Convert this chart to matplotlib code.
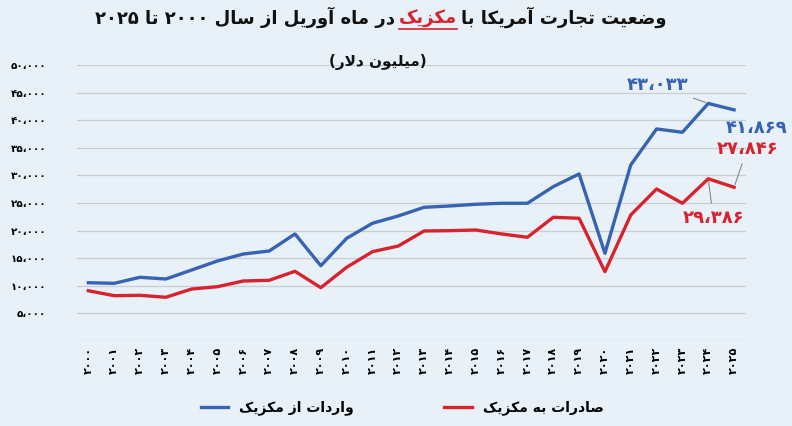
import re
import matplotlib
matplotlib.use('Agg')
import matplotlib.pyplot as plt
from matplotlib.lines import Line2D

# data (million dollars, April of each year)
years = list(range(2000, 2026))
imports = [10560, 10450, 11540, 11230, 12860, 14500, 15760, 16300, 19390, 13640,
           18600, 21330, 22650, 24220, 24460, 24770, 24950, 24950, 27960, 30260,
           15890, 31890, 38410, 37810, 43033, 41869]
exports = [9110, 8210, 8280, 7920, 9420, 9840, 10870, 11000, 12630, 9660,
           13350, 16180, 17210, 19930, 19990, 20110, 19390, 18790, 22410, 22230,
           12560, 22830, 27540, 24950, 29386, 27846]
y_ticks = [5000, 10000, 15000, 20000, 25000, 30000, 35000, 40000, 45000, 50000]

title_left = 'در ماه آوریل از سال ۲۰۰۰ تا ۲۰۲۵'
title_mid = 'مکزیک'
title_right = 'وضعیت تجارت آمریکا با'
subtitle = '(میلیون دلار)'
label_imports = 'واردات از مکزیک'
label_exports = 'صادرات به مکزیک'

BLUE = '#3763b3'
RED = '#d8232f'
BG = '#e8f1f8'

# --- minimal persian shaping (matplotlib has no complex text layout) ---
FORMS = {
    'ا': ('\uFE8D', '\uFE8E'), 'آ': ('\uFE81', '\uFE82'),
    'د': ('\uFEA9', '\uFEAA'), 'ر': ('\uFEAD', '\uFEAE'),
    'ز': ('\uFEAF', '\uFEB0'), 'و': ('\uFEED', '\uFEEE'),
    'ب': ('\uFE8F', '\uFE90', '\uFE91', '\uFE92'),
    'ت': ('\uFE95', '\uFE96', '\uFE97', '\uFE98'),
    'ج': ('\uFE9D', '\uFE9E', '\uFE9F', '\uFEA0'),
    'س': ('\uFEB1', '\uFEB2', '\uFEB3', '\uFEB4'),
    'ص': ('\uFEB9', '\uFEBA', '\uFEBB', '\uFEBC'),
    'ض': ('\uFEBD', '\uFEBE', '\uFEBF', '\uFEC0'),
    'ع': ('\uFEC9', '\uFECA', '\uFECB', '\uFECC'),
    'ک': ('\uFB8E', '\uFB8F', '\uFB90', '\uFB91'),
    'ل': ('\uFEDD', '\uFEDE', '\uFEDF', '\uFEE0'),
    'م': ('\uFEE1', '\uFEE2', '\uFEE3', '\uFEE4'),
    'ن': ('\uFEE5', '\uFEE6', '\uFEE7', '\uFEE8'),
    'ه': ('\uFEE9', '\uFEEA', '\uFEEB', '\uFEEC'),
    'ی': ('\uFBFC', '\uFBFD', '\uFBFE', '\uFBFF'),
}


def dual(c):
    return c in FORMS and len(FORMS[c]) == 4


def fa(text):
    res = []
    i = 0
    while i < len(text):
        c = text[i]
        prev = text[i - 1] if i > 0 else ''
        if c == 'ل' and i + 1 < len(text) and text[i + 1] == 'ا':
            res.append('\uFEFC' if dual(prev) else '\uFEFB')
            i += 2
            continue
        if c not in FORMS:
            res.append(c)
            i += 1
            continue
        nxt = text[i + 1] if i + 1 < len(text) else ''
        p = dual(prev)
        q = dual(c) and nxt in FORMS
        f = FORMS[c]
        if p and q:
            res.append(f[3])
        elif p:
            res.append(f[1])
        elif q:
            res.append(f[2])
        else:
            res.append(f[0])
        i += 1
    tokens = re.findall(r'[۰-۹0-9،]+|.', ''.join(res))
    s = ''.join(reversed(tokens))
    return s.translate(str.maketrans('()', ')('))


def fa_num(n):
    return f'{n:,}'.translate(str.maketrans('0123456789,', '۰۱۲۳۴۵۶۷۸۹،'))


plt.rcParams['font.family'] = ['DejaVu Sans']
plt.rcParams['font.weight'] = 'bold'

fig = plt.figure(figsize=(7.92, 4.26), dpi=100, facecolor=BG)
ax = fig.add_axes([0.0972, 0.1995, 0.845, 0.648])
ax.patch.set_visible(False)

ax.plot(years, imports, color=BLUE, lw=2.4, label=fa(label_imports), zorder=3)
ax.plot(years, exports, color=RED, lw=2.4, label=fa(label_exports), zorder=3)

ax.set_xlim(1999.56, 2025.47)
ax.set_ylim(0, 50000)
ax.set_yticks([0] + y_ticks)
ax.set_yticklabels([''] + [fa_num(v) for v in y_ticks], fontsize=7.5, fontweight='bold')
ax.set_xticks(years)
ax.set_xticklabels([fa_num(y).replace('،', '') for y in years], rotation=90,
                   fontsize=8, fontweight='bold')
ax.tick_params(length=0, pad=4)
ax.tick_params(axis='y', pad=22)
ax.grid(axis='y', color='#c9ced3', lw=0.9)
ax.set_axisbelow(True)
for s in ax.spines.values():
    s.set_visible(False)

# value labels
anno = dict(textcoords='offset pixels', fontweight='bold', fontsize=13,
            va='center', annotation_clip=False)
line = dict(arrowstyle='-', color='#8a8a8a', lw=0.8, shrinkA=2, shrinkB=2)
ax.annotate(fa_num(imports[-2]), (years[-2], imports[-2]), xytext=(-20, 18), ha='right',
            color=BLUE, arrowprops=line, **anno)
ax.annotate(fa_num(imports[-1]), (years[-1], imports[-1]), xytext=(22, -18), ha='center',
            color=BLUE, **anno)
ax.annotate(fa_num(exports[-1]), (years[-1], exports[-1]), xytext=(13, 38), ha='center',
            color=RED, arrowprops=line, **anno)
ax.annotate(fa_num(exports[-2]), (years[-2], exports[-2]), xytext=(5, -39), ha='center',
            color=RED, arrowprops=line, **anno)

# title in three pieces (red middle word)
mid = fig.text(0.54, 0.945, fa(title_mid), color=RED, ha='center', va='baseline',
               fontsize=13, fontweight='bold')
ax.annotate(fa(title_left), xy=(0, 0.945), xycoords=(mid, 'figure fraction'),
            xytext=(-4, 0), textcoords='offset pixels', ha='right', va='baseline',
            fontsize=13, fontweight='bold', color='#111111', annotation_clip=False)
ax.annotate(fa(title_right), xy=(1, 0.945), xycoords=(mid, 'figure fraction'),
            xytext=(4, 0), textcoords='offset pixels', ha='left', va='baseline',
            fontsize=13, fontweight='bold', color='#111111', annotation_clip=False)
fig.text(0.477, 0.845, fa(subtitle), ha='center', va='baseline', fontsize=11,
         fontweight='bold', color='#111111')

ax.legend(loc='center', bbox_to_anchor=(0.508, 0.042), bbox_transform=fig.transFigure,
          ncol=2, frameon=False, handlelength=2.0, columnspacing=6.5,
          prop={'weight': 'bold', 'size': 10})

fig.canvas.draw()
bb = mid.get_window_extent().transformed(fig.transFigure.inverted())
fig.add_artist(Line2D([bb.x0, bb.x1], [bb.y0 - 0.004] * 2, transform=fig.transFigure,
                      color=RED, lw=1.2))

fig.savefig('out.png', dpi=100, facecolor=BG)
